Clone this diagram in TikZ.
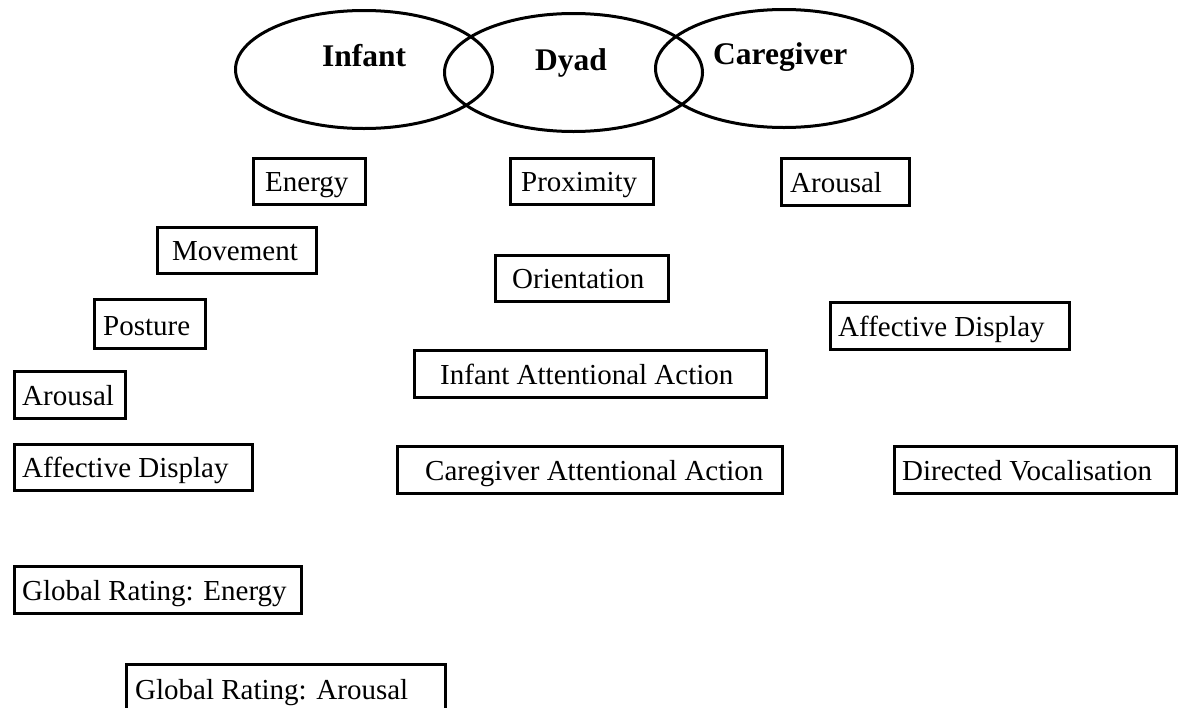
\documentclass[tikz,border=0pt]{standalone}
\usepackage{fontspec}
\setmainfont{Liberation Serif}
\usetikzlibrary{shapes.geometric}

% featbox{name}{left}{top}{right}{bottom}{text x}{text}
\newcommand{\featbox}[7]{%
  \node[fbox, anchor=north west,
        minimum width={(#4-#2-3)*1pt}, minimum height={(#5-#3-3)*1pt}]
        (#1) at ({#2+1.5},{#3+1.5}) {};
  \node[flabel] (#1-t) at (#6,{#5-12.5}) {#7};
}

\begin{document}
\begin{tikzpicture}[x=1pt, y=-1pt,
  fbox/.style={draw, line width=3pt, inner sep=0pt},
  flabel/.style={anchor=base west, inner sep=0pt,
                 font=\fontsize{29}{34}\selectfont},
  group/.style={draw, ellipse, line width=3pt, inner sep=0pt,
                minimum width=257pt, minimum height=118pt},
  grouplabel/.style={anchor=base west, inner sep=0pt,
                     font=\fontsize{31.5}{36}\selectfont\bfseries}]
  \useasboundingbox (0,0) rectangle (1182,707);
  \clip (0,0) rectangle (1182,707);

  % the three overlapping groups
  \node[group] (infant) at (364,69.5) {};
  \node[group, minimum width=258pt] (dyad) at (573.5,72.5) {};
  \node[group] (caregiver) at (784,68.5) {};
  \node[grouplabel] (infant-t) at (322,66) {Infant};
  \node[grouplabel] (dyad-t) at (535,70) {Dyad};
  \node[grouplabel] (caregiver-t) at (713,64) {Caregiver};

  % infant measures
  \featbox{energy}{250}{155}{365}{204}{265}{Energy}
  \featbox{movement}{154}{224}{316}{273}{172}{Movement}
  \featbox{posture}{91}{296}{205}{348}{103}{Posture}
  \featbox{iarousal}{11}{368}{125}{418}{22}{Arousal}
  \featbox{iaffect}{11}{441}{252}{490}{22}{Affective Display}

  % dyad measures
  \featbox{proximity}{507}{155}{653}{204}{521}{Proximity}
  \featbox{orientation}{492}{252}{668}{301}{512}{Orientation}
  \featbox{infantatt}{411}{347}{766}{397}{440}{Infant Attentional Action}
  \featbox{caregiveratt}{394}{443}{782}{493}{425}{Caregiver Attentional Action}

  % caregiver measures
  \featbox{carousal}{778}{155}{909}{205}{790}{Arousal}
  \featbox{caffect}{827}{299}{1069}{349}{838}{Affective Display}
  \featbox{vocal}{891}{443}{1176}{493}{902}{Directed Vocalisation}

  % global ratings
  \featbox{genergy}{11}{563}{301}{613}{22}{Global Rating: Energy}
  \featbox{garousal}{123}{661}{445}{712}{135}{Global Rating: Arousal}
\end{tikzpicture}
\end{document}
